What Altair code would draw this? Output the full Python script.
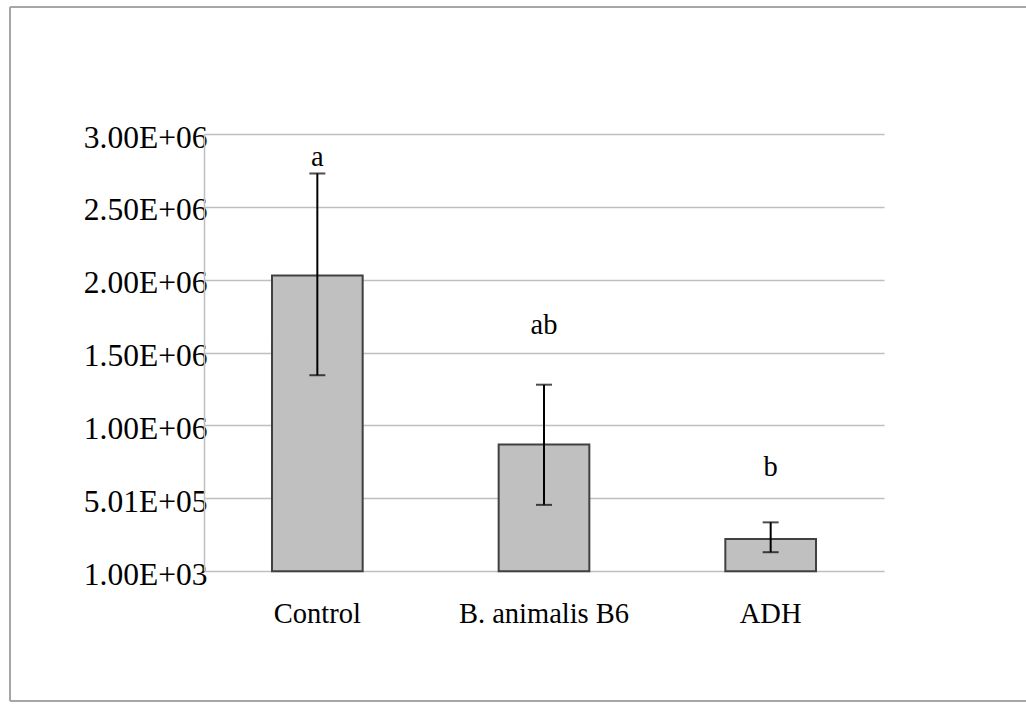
import altair as alt
import pandas as pd

# Group means with upper / lower error limits
groups = ["Control", "B. animalis B6", "ADH"]
means = [2030000, 870000, 220000]
err_high = [2730000, 1280000, 335000]
err_low = [1345000, 455000, 130000]

# Significance letters and the height they sit at
letters = ["a", "ab", "b"]
letter_y = [2780000, 1630000, 650000]

# Y axis ticks and their printed labels
tick_values = [1000, 501000, 1001000, 1501000, 2001000, 2501000, 3001000]
tick_labels = ["1.00E+03", "5.01E+05", "1.00E+06", "1.50E+06",
               "2.00E+06", "2.50E+06", "3.00E+06"]

df = pd.DataFrame({
    "group": groups,
    "mean": means,
    "hi": err_high,
    "lo": err_low,
    "letter": letters,
    "ly": letter_y,
})

FONT = "Liberation Serif"
label_expr = "[{}][indexof([{}], datum.value)]".format(
    ",".join("'%s'" % t for t in tick_labels),
    ",".join(str(v) for v in tick_values),
)

x = alt.X("group:N", sort=groups, title=None,
          scale=alt.Scale(paddingInner=0.6, paddingOuter=0.3),
          axis=alt.Axis(labelAngle=0, domain=False, ticks=False,
                        labelFont=FONT, labelFontSize=28.5, labelColor="#000000",
                        labelPadding=28))
y_scale = alt.Scale(domain=[1000, 3001000], nice=False, zero=False)

base = alt.Chart(df)

bars = base.mark_bar(fill="#c0c0c0", stroke="#404040", strokeWidth=2).encode(
    x=x,
    y=alt.Y("mean:Q", scale=y_scale, title=None,
            axis=alt.Axis(values=tick_values, labelExpr=label_expr,
                          grid=True, gridColor="#bfbfbf", gridWidth=1.5,
                          domain=True, domainColor="#bfbfbf", domainWidth=1.5,
                          ticks=False, labelFont=FONT, labelFontSize=31.5,
                          labelColor="#000000", labelPadding=-3,
                          labelOffset=4)),
)

whisk = base.mark_rule(color="#000000", strokeWidth=2).encode(
    x=alt.X("group:N", sort=groups),
    y=alt.Y("lo:Q", scale=y_scale),
    y2="hi:Q",
)

cap_hi = base.mark_tick(color="#000000", thickness=2, size=16).encode(
    x=alt.X("group:N", sort=groups),
    y=alt.Y("hi:Q", scale=y_scale),
)
cap_lo = base.mark_tick(color="#000000", thickness=2, size=16).encode(
    x=alt.X("group:N", sort=groups),
    y=alt.Y("lo:Q", scale=y_scale),
)

text = base.mark_text(font=FONT, fontSize=28.5, color="#000000",
                      baseline="alphabetic").encode(
    x=alt.X("group:N", sort=groups),
    y=alt.Y("ly:Q", scale=y_scale),
    text="letter:N",
)

# Grey frame around the figure: top, left and bottom edges
one = pd.DataFrame({"k": [0]})
frame_style = dict(color="#a6a6a6", strokeWidth=2, clip=False)
frame_top = alt.Chart(one).mark_rule(**frame_style).encode(
    x=alt.value(-194), x2=alt.value(830), y=alt.value(-127))
frame_left = alt.Chart(one).mark_rule(**frame_style).encode(
    x=alt.value(-194), y=alt.value(-127), y2=alt.value(567))
frame_bottom = alt.Chart(one).mark_rule(**frame_style).encode(
    x=alt.value(-194), x2=alt.value(830), y=alt.value(567))

chart = alt.layer(frame_top, frame_left, frame_bottom,
                  bars, whisk, cap_hi, cap_lo, text).properties(
    width=680, height=437,
    autosize=alt.AutoSizeParams(type="none"),
    padding={"left": 204, "top": 134, "right": 142, "bottom": 131},
    background="#ffffff",
).configure_view(strokeWidth=0)

chart.save("out.html", embed_options={"renderer": "svg", "actions": False})
